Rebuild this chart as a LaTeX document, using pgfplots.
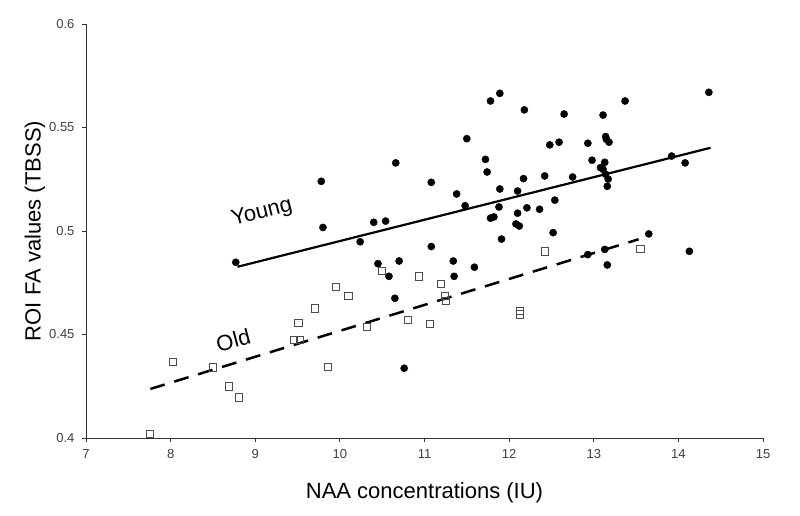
\documentclass[border=0pt]{standalone}
\usepackage{fontspec}
\setmainfont{Liberation Sans}
\usepackage{pgfplots}
\usepackage{pgfplotstable}
\pgfplotsset{compat=1.18}
\pgfplotstableread{
x y
8.77 0.4849
9.78 0.5240
9.80 0.5017
10.24 0.4948
10.40 0.5042
10.54 0.5048
10.45 0.4842
10.70 0.4855
10.58 0.4781
10.66 0.5329
10.65 0.4675
10.76 0.4337
11.08 0.5235
11.08 0.4925
11.34 0.4855
11.35 0.4781
11.59 0.4825
11.38 0.5179
11.48 0.5122
11.50 0.5446
11.72 0.5346
11.74 0.5285
11.78 0.5628
11.89 0.5665
12.18 0.5585
11.89 0.5203
11.88 0.5116
11.78 0.5062
11.82 0.5068
11.91 0.4961
12.10 0.5193
12.17 0.5253
12.21 0.5112
12.10 0.5086
12.08 0.5034
12.12 0.5024
12.36 0.5105
12.42 0.5266
12.48 0.5416
12.59 0.5429
12.54 0.5149
12.65 0.5565
12.75 0.5261
12.52 0.4992
12.93 0.5424
12.98 0.5342
13.11 0.5560
13.14 0.5456
13.15 0.5443
13.18 0.5429
13.13 0.5332
13.08 0.5306
13.11 0.5298
13.14 0.5274
13.17 0.5251
13.16 0.5216
13.37 0.5628
13.92 0.5362
14.08 0.5329
14.36 0.5670
13.65 0.4986
12.93 0.4886
13.13 0.4911
13.16 0.4836
14.13 0.4902
}\young
\pgfplotstableread{
x y
7.75 0.4020
8.03 0.4369
8.50 0.4341
8.69 0.4250
8.81 0.4196
9.46 0.4476
9.53 0.4476
9.51 0.4557
9.70 0.4626
9.86 0.4344
9.95 0.4729
10.10 0.4686
10.32 0.4538
10.50 0.4807
10.93 0.4781
10.80 0.4569
11.06 0.4550
11.19 0.4743
11.24 0.4686
11.25 0.4662
12.13 0.4614
12.13 0.4597
12.42 0.4902
13.55 0.4913
}\old
\begin{document}
\begin{tikzpicture}
\begin{axis}[
  name=ax,
  scale only axis,
  width=677pt, height=414pt,
  xmin=7, xmax=15, ymin=0.4, ymax=0.6,
  axis lines=left,
  axis line style={-, black!80, line width=0.8pt},
  xtick={7,8,...,15},
  ytick={0.4,0.45,0.5,0.55,0.6},
  tick align=outside,
  major tick length=4pt,
  tick style={black!80, line width=0.8pt},
  ticklabel style={font=\fontsize{13}{15}\selectfont, text=black!75},
  xticklabel style={yshift=-4pt},
  yticklabel style={xshift=-4pt},
  /pgf/number format/assume math mode=true,
  xlabel={NAA concentrations (IU)},
  ylabel={ROI FA values (TBSS)},
  label style={font=\fontsize{22}{26}\selectfont},
  xlabel style={at={(axis description cs:0.5,-0.1329)}, anchor=center},
  ylabel style={at={(axis description cs:-0.0753,0.5)}, anchor=center},
  clip=false,
]
\addplot[black, line width=2.2pt] coordinates {(8.79,0.4827) (14.38,0.5402)};
\addplot[black, line width=2.5pt, dash pattern=on 15pt off 10pt] coordinates {(7.76,0.4237) (13.53,0.4960)};
\addplot[only marks, mark=*, mark size=3.6pt, black] table[x=x,y=y] {\young};
\addplot[only marks, mark=square, mark size=3.6pt, mark options={draw=black!70, line width=0.7pt}] table[x=x,y=y] {\old};
\node[rotate=14, font=\fontsize{22}{26}\selectfont] at (axis cs:9.08,0.5087) {Young};
\node[rotate=15, font=\fontsize{22}{26}\selectfont] at (axis cs:8.74,0.4473) {Old};
\end{axis}
\pgfresetboundingbox
\path[use as bounding box] ([xshift=-86pt,yshift=-77pt]ax.south west) rectangle ([xshift=37pt,yshift=24pt]ax.north east);
\end{tikzpicture}
\end{document}
